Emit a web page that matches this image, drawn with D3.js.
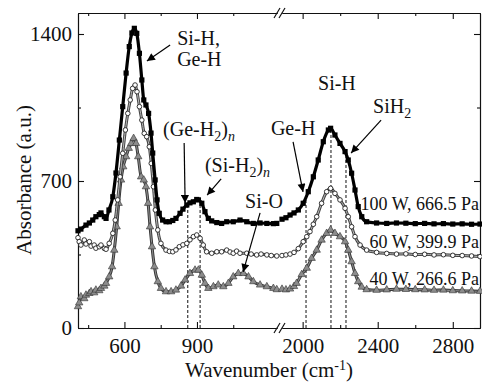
<!DOCTYPE html>
<html>
<head>
<meta charset="utf-8">
<script src="https://cdn.jsdelivr.net/npm/d3@7/dist/d3.min.js"></script>
<style>
  body { margin: 0; background: #fff; }
</style>
</head>
<body>
<svg id="chart" width="482" height="385"></svg>
<script>
// wavenumber (cm-1), absorbance (a.u.) -- left part of the broken axis
var w100Low = [[408,463],[420,471],[441,490],[455,500],[469,514],[482,530],[496,540],[503,548],[517,530],[524,522],
  [536,562],[552,625],[565,738],[579,895],[593,1054],[607,1214],[620,1340],[631,1405],[641,1427],[651,1403],
  [662,1308],[672,1181],[680,1086],[689,1062],[700,1022],[710,928],[717,833],[727,705],[735,610],[744,546],
  [758,514],[772,506],[786,506],[800,512],[813,522],[830,546],[842,566],[858,586],[871,596],[885,601],
  [899,612],[906,610],[920,594],[933,554],[947,522],[961,510],[982,502],[1002,498],[1023,506],[1050,506],
  [1078,514],[1106,506],[1133,498],[1161,500],[1189,498],[1216,497],[1230,498]];
var w60Low = [[408,430],[413,411],[420,395],[434,419],[441,400],[455,411],[462,390],[475,395],[482,380],[496,387],
  [503,395],[517,379],[524,375],[537,403],[552,451],[562,514],[572,610],[582,720],[593,832],[604,943],
  [614,1022],[624,1086],[634,1141],[644,1157],[652,1125],[662,1054],[672,990],[682,927],[692,911],[703,863],
  [711,784],[720,673],[728,562],[738,467],[751,403],[772,371],[786,365],[800,363],[813,372],[827,387],
  [842,396],[858,403],[871,420],[885,435],[899,443],[913,427],[926,395],[940,363],[961,356],[982,363],
  [1002,363],[1023,371],[1037,362],[1050,356],[1064,366],[1078,356],[1106,356],[1124,352],[1147,348],[1165,352],
  [1189,348],[1207,345],[1230,343]];
var w40Low = [[408,102],[413,120],[420,149],[434,140],[441,157],[455,165],[462,173],[475,168],[482,181],[496,178],
  [503,189],[517,200],[524,213],[537,244],[549,292],[558,371],[568,482],[576,594],[586,705],[595,768],
  [607,816],[618,856],[628,879],[638,903],[648,879],[657,816],[669,720],[680,705],[689,673],[698,594],
  [706,482],[714,387],[724,292],[738,221],[751,189],[772,173],[793,173],[813,181],[834,200],[851,229],
  [871,260],[892,276],[906,276],[920,252],[933,213],[947,189],[968,197],[988,205],[1009,197],[1030,213],
  [1050,244],[1071,260],[1092,260],[1113,244],[1133,221],[1161,205],[1189,197],[1216,189],[1230,183]];

// right part of the broken axis
var w100High = [[1890,518],[1911,525],[1933,538],[1954,548],[1977,562],[2003,594],[2030,649],[2057,720],[2083,800],
  [2110,887],[2137,943],[2149,951],[2172,919],[2199,879],[2226,840],[2243,800],[2261,737],[2279,657],[2296,578],
  [2315,530],[2341,506],[2394,500],[2448,498],[2500,500],[2550,499],[2600,497],[2650,498],[2700,496],[2750,497],
  [2800,495],[2850,496],[2900,494],[2945,495]];
var w60High = [[1890,345],[1911,348],[1933,352],[1954,360],[1977,378],[2003,411],[2022,435],[2039,459],[2057,494],
  [2075,530],[2101,594],[2128,649],[2149,665],[2172,641],[2199,610],[2226,570],[2243,530],[2261,482],[2279,435],
  [2306,395],[2341,371],[2394,360],[2448,355],[2500,352],[2550,353],[2600,350],[2650,351],[2700,348],[2750,349],
  [2800,346],[2850,345],[2900,343],[2945,340]];
var w40High = [[1890,185],[1911,182],[1933,186],[1954,198],[1968,213],[1995,255],[2022,285],[2048,332],[2075,371],
  [2101,419],[2128,451],[2149,467],[2172,451],[2199,435],[2226,411],[2243,371],[2261,316],[2279,260],[2296,221],
  [2315,195],[2341,183],[2394,180],[2448,182],[2500,185],[2550,184],[2600,183],[2650,182],[2700,180],[2750,181],
  [2800,178],[2850,177],[2900,176],[2945,175]];

var seriesNames = ["100 W, 666.5 Pa", "60 W, 399.9 Pa", "40 W, 266.6 Pa"];
var labelLevel = [562, 381, 205];

var yTicks = [0, 700, 1400];
var yMinor = [350, 1050];
var xLowTicks = [600, 900];
var xLowMinor = [450, 750, 1050];
var xHighTicks = [2000, 2400, 2800];
var xHighMinor = [2200, 2600];

// vertical dashed guides: wavenumber and height they reach
var guidesLow = [[862, 580], [913, 595]];
var guidesHigh = [[2018, 610], [2151, 951], [2231, 830]];

var FONT = "'Liberation Serif', 'Times New Roman', 'DejaVu Serif', serif";

var svg = d3.select("#chart");
var xLow = d3.scaleLinear().domain([408, 1231]).range([78, 277]);
var xHigh = d3.scaleLinear().domain([1890, 2945]).range([282, 480]);
var y = d3.scaleLinear().domain([0, 1500]).range([328, 13]);
var fmt = d3.format("d");

function styleAxis(g) {
  g.attr("font-family", FONT);
  g.selectAll("path,line").attr("stroke", "#111").attr("stroke-width", 1.1);
  g.selectAll("text").attr("font-size", 21).attr("fill", "#111");
}

// bottom and top axes, each part
[[xLow, xLowTicks, xLowMinor], [xHigh, xHighTicks, xHighMinor]].forEach(function(a) {
  svg.append("g").attr("transform", "translate(0,328)")
    .call(d3.axisBottom(a[0]).tickValues(a[1]).tickSize(-6).tickSizeOuter(0).tickPadding(10).tickFormat(fmt))
    .call(styleAxis);
  svg.append("g").attr("transform", "translate(0,328)")
    .call(d3.axisBottom(a[0]).tickValues(a[2]).tickSize(-3).tickSizeOuter(0).tickFormat(""))
    .call(styleAxis);
  svg.append("g").attr("transform", "translate(0,13)")
    .call(d3.axisTop(a[0]).tickValues(a[1]).tickSize(-6).tickSizeOuter(0).tickFormat(""))
    .call(styleAxis);
  svg.append("g").attr("transform", "translate(0,13)")
    .call(d3.axisTop(a[0]).tickValues(a[2]).tickSize(-3).tickSizeOuter(0).tickFormat(""))
    .call(styleAxis);
});

svg.append("g").attr("transform", "translate(78,0)")
  .call(d3.axisLeft(y).tickValues(yTicks).tickSize(-6).tickSizeOuter(0).tickPadding(6).tickFormat(fmt))
  .call(styleAxis);
svg.append("g").attr("transform", "translate(78,0)")
  .call(d3.axisLeft(y).tickValues(yMinor).tickSize(-3).tickSizeOuter(0).tickFormat(""))
  .call(styleAxis);
svg.append("g").attr("transform", "translate(480,0)")
  .call(d3.axisRight(y).tickValues(yTicks).tickSize(-6).tickSizeOuter(0).tickFormat(""))
  .call(styleAxis);
svg.append("g").attr("transform", "translate(480,0)")
  .call(d3.axisRight(y).tickValues(yMinor).tickSize(-3).tickSizeOuter(0).tickFormat(""))
  .call(styleAxis);

// axis break marks
[13, 328].forEach(function(yy) {
  [xLow.range()[1], xHigh.range()[0]].forEach(function(xx) {
    svg.append("line").attr("x1", xx - 3).attr("y1", yy + 5).attr("x2", xx + 3).attr("y2", yy - 5)
      .attr("stroke", "#111").attr("stroke-width", 1.2);
  });
});

// dashed guides
var guideG = svg.append("g").attr("stroke", "#111").attr("stroke-width", 1).attr("stroke-dasharray", "3,2");
guidesLow.forEach(function(d) {
  guideG.append("line").attr("x1", xLow(d[0])).attr("x2", xLow(d[0])).attr("y1", y(0)).attr("y2", y(d[1]));
});
guidesHigh.forEach(function(d) {
  guideG.append("line").attr("x1", xHigh(d[0])).attr("x2", xHigh(d[0])).attr("y1", y(0)).attr("y2", y(d[1]));
});

function drawSeries(data, xs, kind) {
  var line = d3.line().x(function(d) { return xs(d[0]); }).y(function(d) { return y(d[1]); })
    .curve(d3.curveMonotoneX);
  var g = svg.append("g");
  if (kind == "square") {
    g.append("path").attr("d", line(data)).attr("fill", "none").attr("stroke", "#000").attr("stroke-width", 3.2);
    g.selectAll("rect").data(data).enter().append("rect")
      .attr("x", function(d) { return xs(d[0]) - 2.6; }).attr("y", function(d) { return y(d[1]) - 2.6; })
      .attr("width", 5.2).attr("height", 5.2).attr("fill", "#000");
  } else if (kind == "circle") {
    g.append("path").attr("d", line(data)).attr("fill", "none").attr("stroke", "#444").attr("stroke-width", 3);
    g.append("path").attr("d", line(data)).attr("fill", "none").attr("stroke", "#bbb").attr("stroke-width", 1);
    g.selectAll("circle").data(data).enter().append("circle")
      .attr("cx", function(d) { return xs(d[0]); }).attr("cy", function(d) { return y(d[1]); })
      .attr("r", 2.3).attr("fill", "#fff").attr("stroke", "#222").attr("stroke-width", 0.9);
  } else {
    g.append("path").attr("d", line(data)).attr("fill", "none").attr("stroke", "#333").attr("stroke-width", 3);
    g.append("path").attr("d", line(data)).attr("fill", "none").attr("stroke", "#888").attr("stroke-width", 1.2);
    var tri = d3.symbol().type(d3.symbolTriangle).size(24);
    g.selectAll("path.m").data(data).enter().append("path").attr("class", "m")
      .attr("d", tri).attr("transform", function(d) { return "translate(" + xs(d[0]) + "," + y(d[1]) + ")"; })
      .attr("fill", "#8c8c8c").attr("stroke", "#333").attr("stroke-width", 0.6);
  }
}

drawSeries(w40Low, xLow, "triangle");
drawSeries(w40High, xHigh, "triangle");
drawSeries(w60Low, xLow, "circle");
drawSeries(w60High, xHigh, "circle");
drawSeries(w100Low, xLow, "square");
drawSeries(w100High, xHigh, "square");

// series labels
seriesNames.forEach(function(name, i) {
  svg.append("text").attr("x", xHigh(2940)).attr("y", y(labelLevel[i]))
    .attr("text-anchor", "end").attr("font-size", 18).attr("font-family", FONT).attr("fill", "#111").text(name);
});

// annotations: parts of text with optional subscript / italic
function label(x, yy, parts, size) {
  var t = svg.append("text").attr("x", x).attr("y", yy).attr("font-size", size || 20)
    .attr("font-family", FONT).attr("fill", "#111");
  var shift = 0;
  parts.forEach(function(p) {
    var s = t.append("tspan").text(p.t);
    var want = p.sub ? 5 : (p.sup ? -7 : 0);
    if (want != shift) { s.attr("dy", want - shift); shift = want; }
    if (p.sub || p.sup) s.attr("font-size", 14);
    if (p.it) s.attr("font-style", "italic");
  });
  return t;
}

var defs = svg.append("defs");
defs.append("marker").attr("id", "head").attr("viewBox", "0 0 10 10").attr("refX", 10).attr("refY", 5)
  .attr("markerWidth", 10).attr("markerHeight", 8).attr("markerUnits", "userSpaceOnUse").attr("orient", "auto")
  .append("path").attr("d", "M0,0L10,5L0,10Z").attr("fill", "#000");

function arrow(x1, y1, x2, y2) {
  svg.append("line").attr("x1", x1).attr("y1", y1).attr("x2", x2).attr("y2", y2)
    .attr("stroke", "#000").attr("stroke-width", 1.2).attr("marker-end", "url(#head)");
}

label(xLow(818), y(1348), [{t: "Si-H,"}]);
label(xLow(818), y(1248), [{t: "Ge-H"}]);
arrow(xLow(789), y(1348), xLow(693), y(1271));

label(xLow(760), y(914), [{t: "(Ge-H"}, {t: "2", sub: true}, {t: ")"}, {t: "n", sub: true, it: true}]);
arrow(xLow(847), y(881), xLow(851), y(595));

label(xLow(933), y(743), [{t: "(Si-H"}, {t: "2", sub: true}, {t: ")"}, {t: "n", sub: true, it: true}]);
arrow(xLow(1000), y(710), xLow(942), y(633));

label(xLow(1099), y(571), [{t: "Si-O"}]);
arrow(xLow(1161), y(548), xLow(1091), y(267));

label(xHigh(1831), y(919), [{t: "Ge-H"}]);
arrow(xHigh(1949), y(886), xHigh(2002), y(648));

label(xHigh(2082), y(1133), [{t: "Si-H"}]);

label(xHigh(2375), y(1024), [{t: "SiH"}, {t: "2", sub: true}]);
arrow(xHigh(2418), y(990), xHigh(2258), y(833));

// axis titles
label(269, 377, [{t: "Wavenumber (cm"}, {t: "-1", sup: true}, {t: ")"}], 21).attr("text-anchor", "middle");
svg.append("text").attr("transform", "translate(31,180) rotate(-90)").attr("text-anchor", "middle")
  .attr("font-size", 21).attr("font-family", FONT).attr("fill", "#111").text("Absorbance (a.u.)");
</script>
</body>
</html>
